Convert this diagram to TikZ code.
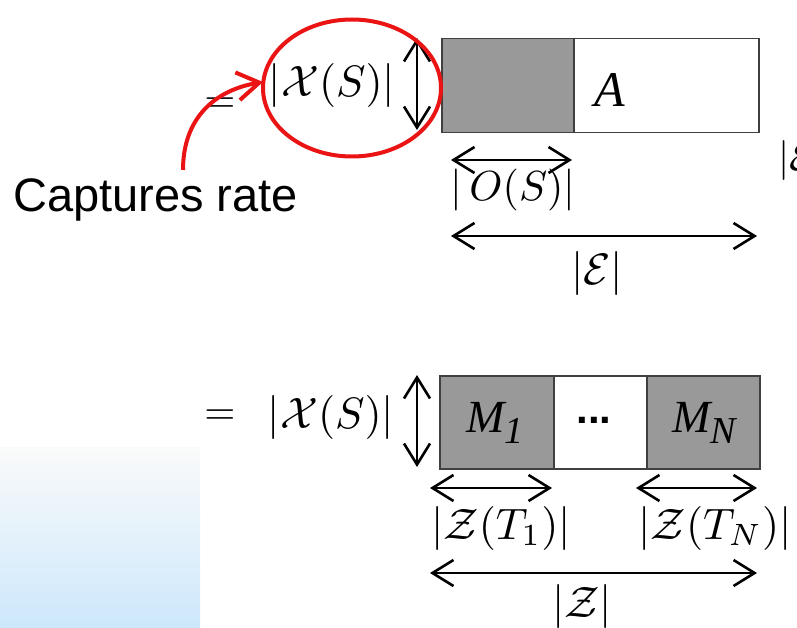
\documentclass[tikz,border=0pt]{standalone}
\usepackage{graphicx}
\usepackage{fontspec}
\newfontfamily\arialf{Liberation Sans}
\newfontfamily\tmsf{Liberation Serif}
\usetikzlibrary{arrows.meta,shapes.geometric}
\definecolor{boxgray}{RGB}{153,153,153}
\definecolor{edgegray}{RGB}{64,64,64}
\definecolor{capred}{RGB}{235,20,20}
\definecolor{paleblue}{RGB}{205,232,251}
\newcommand\mlarge[1]{\scalebox{4.4}{$#1$}}
\newcommand\mmedium[1]{\scalebox{4.0}{$#1$}}
\newcommand\msub[1]{\raisebox{-11pt}{\fontsize{38}{44}\selectfont #1}}
\tikzset{
  mth/.style={inner sep=0pt},
  gbox/.style={draw=edgegray, fill=boxgray, line width=1.5pt, inner sep=0pt, anchor=north west},
  wbox/.style={draw=edgegray, fill=white, line width=1.5pt, inner sep=0pt, anchor=north west},
  mlab/.style={inner sep=0pt, font=\fontsize{46}{54}\selectfont\tmsf\itshape},
  dimarrow/.style={line width=2.6pt, {Straight Barb[length=21pt,width=26pt]}-{Straight Barb[length=21pt,width=26pt]}},
  redarrow/.style={draw=capred, line width=4pt, -{Straight Barb[length=22pt,width=28pt]}},
}
\begin{document}
\begin{tikzpicture}[x=1pt,y=-1pt]
\useasboundingbox (0,0) rectangle (797,628);
\clip (0,0) rectangle (797,628);
% pale blue gradient block
\shade[top color=white!98!black, bottom color=paleblue] (0,447) rectangle (200,628);

% ---------- top row ----------
\node[gbox, minimum width=132pt, minimum height=94pt] (o) at (441,38) {};
\node[wbox, minimum width=185pt, minimum height=94pt] (a) at (573,38) {};
\node[inner sep=0pt, font=\fontsize{50}{60}\selectfont\tmsf\itshape] (alab) at (610,90) {A};

\node[mth] (eq1) at (220,105) {\mmedium{=}};
\node[mth] (xs1) at (332,86) {\mlarge{|\mathcal{X}(S)|}};

\coordinate (v1t) at (417,38);
\coordinate (v1b) at (417,130);
\draw[dimarrow] (v1t) -- (v1b);

\coordinate (os1) at (451,160);
\coordinate (os2) at (572,160);
\draw[dimarrow] (os1) -- (os2);
\node[mth] (oslab) at (513,190) {\scalebox{4.2}{$|\,O(S)|$}};

\coordinate (e1) at (451,236);
\coordinate (e2) at (757,236);
\draw[dimarrow] (e1) -- (e2);
\node[mth] (elab) at (597,273) {\mlarge{|\mathcal{E}|}};

\node[mth, anchor=west] (ecut) at (778,161) {\mmedium{|\mathcal{E}|}};

% red highlight
\node[draw=capred, line width=4pt, ellipse, minimum width=178pt, minimum height=137pt, inner sep=0pt] (circ) at (352,88) {};
\node[inner sep=0pt, anchor=base west, font=\fontsize{47}{56}\selectfont\arialf] (cap) at (13,212) {Captures rate};
\coordinate (rs) at (183,170);
\coordinate (rt) at (263,82);
\draw[redarrow] (rs) .. controls (183,118) and (215,90) .. (rt);

% ---------- bottom row ----------
\node[gbox, minimum width=114pt, minimum height=93pt] (m1) at (439,375) {};
\node[wbox, minimum width=93pt, minimum height=93pt] (mid) at (553,375) {};
\node[gbox, minimum width=113pt, minimum height=93pt] (mn) at (646,375) {};
\node[mlab, anchor=base west] (m1lab) at (466,432) {M\msub{1}};
\node[mlab, anchor=base west] (mnlab) at (672,432) {M\msub{N}};
\node[inner sep=0pt, font=\fontsize{42}{50}\selectfont\arialf\bfseries] (dots) at (594,420) {...};

\node[mth] (eq2) at (220,417) {\mmedium{=}};
\node[mth] (xs2) at (331,417) {\mlarge{|\mathcal{X}(S)|}};

\coordinate (v2t) at (417,375);
\coordinate (v2b) at (417,467);
\draw[dimarrow] (v2t) -- (v2b);

\coordinate (z11) at (430,488);
\coordinate (z12) at (552,488);
\draw[dimarrow] (z11) -- (z12);
\node[mth] (z1lab) at (501,528) {\mlarge{|\mathcal{Z}(T_1)|}};

\coordinate (zn1) at (636,488);
\coordinate (zn2) at (757,488);
\draw[dimarrow] (zn1) -- (zn2);
\node[mth] (znlab) at (715,528) {\mlarge{|\mathcal{Z}(T_N)|}};

\coordinate (z1) at (430,573);
\coordinate (z2) at (757,573);
\draw[dimarrow] (z1) -- (z2);
\node[mth] (zlab) at (582,606) {\mlarge{|\mathcal{Z}|}};
\end{tikzpicture}
\end{document}
